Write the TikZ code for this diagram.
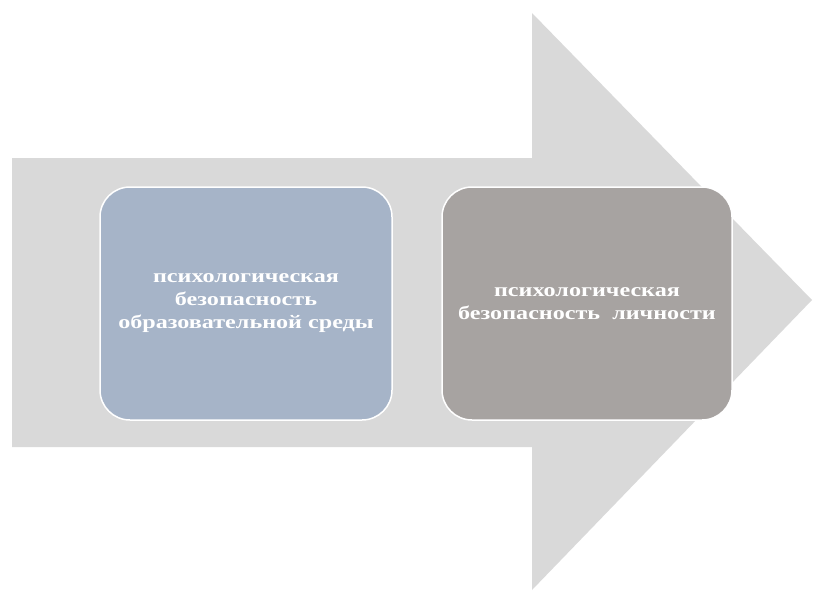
\documentclass[tikz,border=0pt]{standalone}
\usepackage{fontspec}
\setmainfont{Liberation Serif}
\newfontfamily\widefont[FakeStretch=1.27]{Liberation Serif}
\definecolor{arrowgray}{HTML}{D9D9D9}
\definecolor{boxblue}{HTML}{A6B4C8}
\definecolor{boxgray}{HTML}{A7A3A1}
\tikzset{
  stagebox/.style={draw=white, line width=1.5pt, rounded corners=30pt, text=white,
    font=\widefont\bfseries\fontsize{19}{23}\selectfont, align=center, inner sep=0pt}
}
\begin{document}
\begin{tikzpicture}[x=1pt,y=-1pt]
\useasboundingbox (0,0) rectangle (814,590);
\fill[arrowgray] (12,158) -- (532,158) -- (532,13) -- (812,300) -- (532,590) -- (532,447) -- (12,447) -- cycle;
\node[stagebox, fill=boxblue, minimum width=292pt, minimum height=233pt] (a) at (246,303.5)
  {психологическая\\безопасность\\образовательной среды};
\node[stagebox, fill=boxgray, minimum width=290pt, minimum height=233pt] (b) at (587,303.5)
  {психологическая\\безопасность\ \ личности};
\end{tikzpicture}
\end{document}
